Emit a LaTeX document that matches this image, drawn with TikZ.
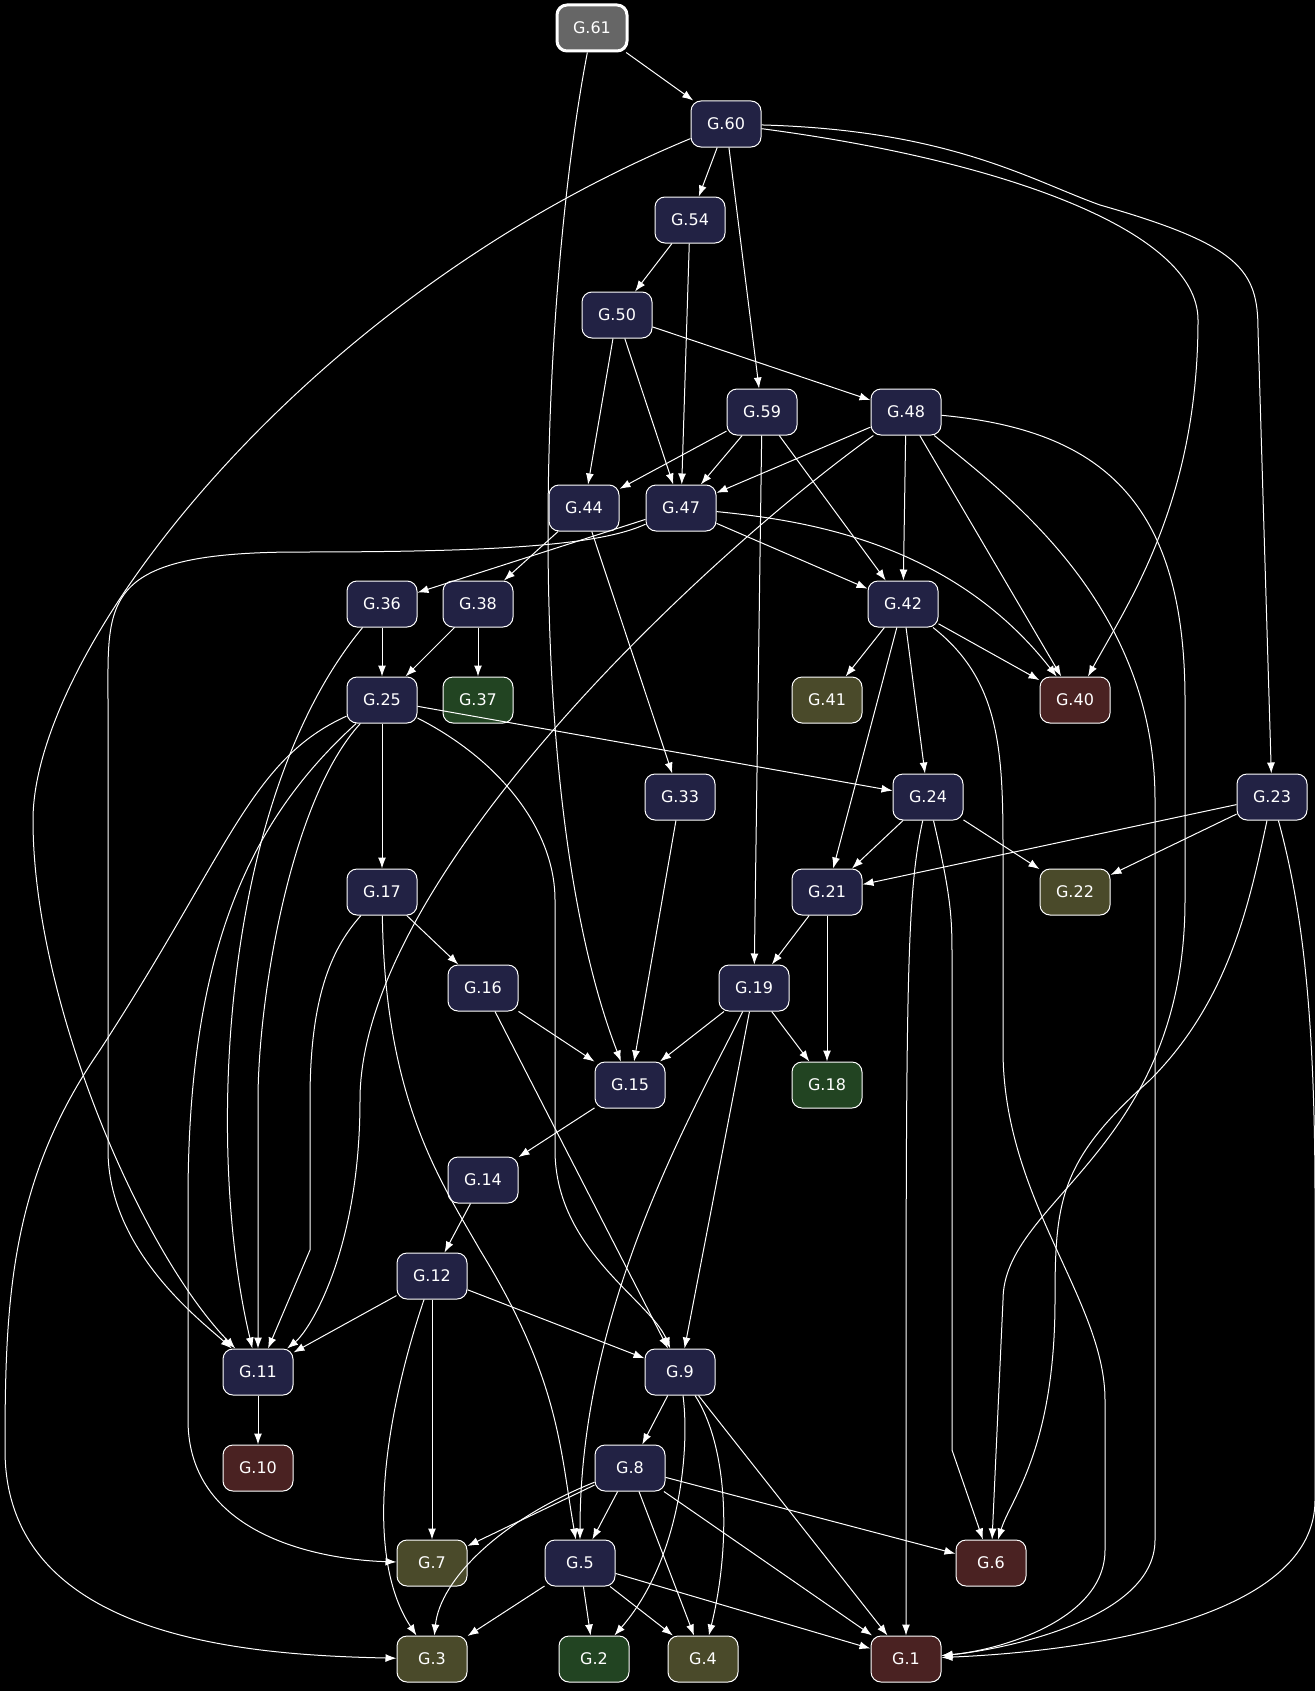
\documentclass[tikz,border=0pt]{standalone}
\usepackage{fontspec}
\setmainfont{DejaVu Sans}
\usetikzlibrary{arrows.meta}
\definecolor{navy}{HTML}{222244}
\definecolor{leaf}{HTML}{224422}
\definecolor{olive}{HTML}{4A4A2A}
\definecolor{wine}{HTML}{4A2222}
\begin{document}
\begin{tikzpicture}[x=1pt,y=-1pt,
		node_style/.style={rounded corners=10pt,draw=white,line width=1pt,fill=navy,text=white,minimum width=70pt,minimum height=46pt,font=\fontsize{16}{18}\selectfont},
		leaf_style/.style={node_style,fill=leaf},
		olive_style/.style={node_style,fill=olive},
		wine_style/.style={node_style,fill=wine},
		edge_style/.style={draw=white,line width=1pt,-{Latex[length=11pt,width=8pt]}}]

		\fill[black] (0,0) rectangle (1315,1691);
		\useasboundingbox (0,0) rectangle (1315,1691);

		\node[node_style,fill=black!60,line width=3pt] (g61) at (592,28) {G.61};
		\node[node_style] (g60) at (726,124) {G.60};
		\node[node_style] (g54) at (690,220) {G.54};
		\node[node_style] (g50) at (617,315) {G.50};
		\node[node_style] (g59) at (762,412) {G.59};
		\node[node_style] (g48) at (906,412) {G.48};
		\node[node_style] (g44) at (584,508) {G.44};
		\node[node_style] (g47) at (681,508) {G.47};
		\node[node_style] (g36) at (382,604) {G.36};
		\node[node_style] (g38) at (478,604) {G.38};
		\node[node_style] (g42) at (903,604) {G.42};
		\node[node_style] (g25) at (382,700) {G.25};
		\node[leaf_style] (g37) at (478,700) {G.37};
		\node[olive_style] (g41) at (827,700) {G.41};
		\node[wine_style] (g40) at (1075,700) {G.40};
		\node[node_style] (g33) at (680,797) {G.33};
		\node[node_style] (g24) at (928,797) {G.24};
		\node[node_style] (g23) at (1272,797) {G.23};
		\node[node_style] (g17) at (382,892) {G.17};
		\node[node_style] (g21) at (827,892) {G.21};
		\node[olive_style] (g22) at (1075,892) {G.22};
		\node[node_style] (g16) at (483,988) {G.16};
		\node[node_style] (g19) at (754,988) {G.19};
		\node[node_style] (g15) at (630,1085) {G.15};
		\node[leaf_style] (g18) at (827,1085) {G.18};
		\node[node_style] (g14) at (483,1180) {G.14};
		\node[node_style] (g12) at (432,1276) {G.12};
		\node[node_style] (g11) at (258,1372) {G.11};
		\node[node_style] (g9) at (680,1372) {G.9};
		\node[wine_style] (g10) at (258,1468) {G.10};
		\node[node_style] (g8) at (630,1468) {G.8};
		\node[olive_style] (g7) at (432,1563) {G.7};
		\node[node_style] (g5) at (580,1563) {G.5};
		\node[wine_style] (g6) at (991,1563) {G.6};
		\node[olive_style] (g3) at (432,1659) {G.3};
		\node[leaf_style] (g2) at (594,1659) {G.2};
		\node[olive_style] (g4) at (703,1659) {G.4};
		\node[wine_style] (g1) at (906,1659) {G.1};

		\draw[edge_style] (g61) -- (g60);
		\draw[edge_style] (g61) .. controls (540,300) and (520,800) .. (g15);
		\draw[edge_style] (g60) -- (g54);
		\draw[edge_style] (g60) -- (g59);
		\draw[edge_style] (g60) .. controls (300,300) and (33,650) .. (33,820) .. controls (33,1000) and (140,1250) .. (g11);
		\draw[edge_style] (g60) .. controls (1000,160) and (1198,230) .. (1198,320) .. controls (1198,500) and (1130,600) .. (g40);
		\draw[edge_style] (g60) .. controls (950,130) and (1030,180) .. (1100,205) .. controls (1240,245) and (1258,270) .. (1258,330) -- (g23);
		\draw[edge_style] (g54) -- (g50);
		\draw[edge_style] (g54) -- (g47);
		\draw[edge_style] (g50) -- (g48);
		\draw[edge_style] (g50) -- (g44);
		\draw[edge_style] (g50) -- (g47);
		\draw[edge_style] (g59) -- (g44);
		\draw[edge_style] (g59) -- (g47);
		\draw[edge_style] (g59) -- (g42);
		\draw[edge_style] (g59) -- (g19);
		\draw[edge_style] (g48) -- (g47);
		\draw[edge_style] (g48) -- (g42);
		\draw[edge_style] (g48) -- (g40);
		\draw[edge_style] (g48) .. controls (700,560) and (360,880) .. (360,1100) .. controls (360,1250) and (310,1330) .. (g11);
		\draw[edge_style] (g48) .. controls (1100,430) and (1185,500) .. (1185,700) -- (1185,900) .. controls (1185,1150) and (1003,1200) .. (1003,1300) -- (g6);
		\draw[edge_style] (g48) .. controls (1000,490) and (1155,600) .. (1155,800) -- (1155,1540) .. controls (1155,1620) and (1000,1650) .. (g1);
		\draw[edge_style] (g44) -- (g38);
		\draw[edge_style] (g44) -- (g33);
		\draw[edge_style] (g47) -- (g36);
		\draw[edge_style] (g47) -- (g42);
		\draw[edge_style] (g47) .. controls (800,520) and (950,540) .. (g40);
		\draw[edge_style] (g47) .. controls (600,545) and (500,552) .. (300,552) .. controls (100,552) and (108,600) .. (108,700) -- (108,1150) .. controls (108,1250) and (200,1320) .. (g11);
		\draw[edge_style] (g36) -- (g25);
		\draw[edge_style] (g36) .. controls (220,800) and (205,1150) .. (g11);
		\draw[edge_style] (g38) -- (g25);
		\draw[edge_style] (g38) -- (g37);
		\draw[edge_style] (g42) -- (g41);
		\draw[edge_style] (g42) -- (g40);
		\draw[edge_style] (g42) -- (g24);
		\draw[edge_style] (g42) -- (g21);
		\draw[edge_style] (g42) .. controls (1000,680) and (1003,750) .. (1003,850) -- (1003,1050) .. controls (1003,1200) and (1105,1300) .. (1105,1400) -- (1105,1550) .. controls (1105,1620) and (1000,1650) .. (g1);
		\draw[edge_style] (g25) -- (g17);
		\draw[edge_style] (g25) -- (g24);
		\draw[edge_style] (g25) .. controls (290,800) and (258,1000) .. (258,1100) -- (g11);
		\draw[edge_style] (g25) .. controls (500,760) and (555,830) .. (555,900) -- (555,1150) .. controls (555,1250) and (650,1300) .. (g9);
		\draw[edge_style] (g25) .. controls (250,820) and (188,950) .. (188,1200) -- (188,1420) .. controls (188,1540) and (330,1560) .. (g7);
		\draw[edge_style] (g25) .. controls (250,760) and (230,850) .. (100,1050) .. controls (10,1180) and (5,1300) .. (5,1450) .. controls (5,1640) and (250,1655) .. (g3);
		\draw[edge_style] (g33) -- (g15);
		\draw[edge_style] (g24) -- (g21);
		\draw[edge_style] (g24) -- (g22);
		\draw[edge_style] (g24) .. controls (952,900) and (952,920) .. (952,960) -- (952,1450) -- (g6);
		\draw[edge_style] (g24) .. controls (905,900) and (906,1000) .. (g1);
		\draw[edge_style] (g23) -- (g21);
		\draw[edge_style] (g23) -- (g22);
		\draw[edge_style] (g23) .. controls (1250,900) and (1230,1000) .. (1150,1080) .. controls (1060,1160) and (1055,1200) .. (1055,1300) .. controls (1055,1450) and (1010,1500) .. (g6);
		\draw[edge_style] (g23) .. controls (1300,900) and (1315,1000) .. (1315,1200) -- (1315,1500) .. controls (1315,1640) and (1000,1655) .. (g1);
		\draw[edge_style] (g17) -- (g16);
		\draw[edge_style] (g17) .. controls (330,950) and (310,1000) .. (310,1100) -- (310,1250) -- (g11);
		\draw[edge_style] (g17) .. controls (385,1100) and (440,1180) .. (480,1250) .. controls (560,1380) and (560,1450) .. (g5);
		\draw[edge_style] (g21) -- (g19);
		\draw[edge_style] (g21) -- (g18);
		\draw[edge_style] (g16) -- (g15);
		\draw[edge_style] (g16) -- (g9);
		\draw[edge_style] (g19) -- (g15);
		\draw[edge_style] (g19) -- (g18);
		\draw[edge_style] (g19) -- (g9);
		\draw[edge_style] (g19) .. controls (700,1100) and (580,1300) .. (g5);
		\draw[edge_style] (g15) -- (g14);
		\draw[edge_style] (g14) -- (g12);
		\draw[edge_style] (g12) -- (g11);
		\draw[edge_style] (g12) -- (g9);
		\draw[edge_style] (g12) -- (g7);
		\draw[edge_style] (g12) .. controls (390,1400) and (360,1550) .. (g3);
		\draw[edge_style] (g11) -- (g10);
		\draw[edge_style] (g9) -- (g8);
		\draw[edge_style] (g9) .. controls (690,1450) and (680,1560) .. (g2);
		\draw[edge_style] (g9) .. controls (730,1450) and (730,1550) .. (g4);
		\draw[edge_style] (g9) -- (g1);
		\draw[edge_style] (g8) -- (g7);
		\draw[edge_style] (g8) -- (g5);
		\draw[edge_style] (g8) -- (g6);
		\draw[edge_style] (g8) -- (g1);
		\draw[edge_style] (g8) -- (g4);
		\draw[edge_style] (g8) .. controls (500,1520) and (440,1580) .. (g3);
		\draw[edge_style] (g5) -- (g3);
		\draw[edge_style] (g5) -- (g2);
		\draw[edge_style] (g5) -- (g4);
		\draw[edge_style] (g5) -- (g1);

		\end{tikzpicture}
\end{document}
